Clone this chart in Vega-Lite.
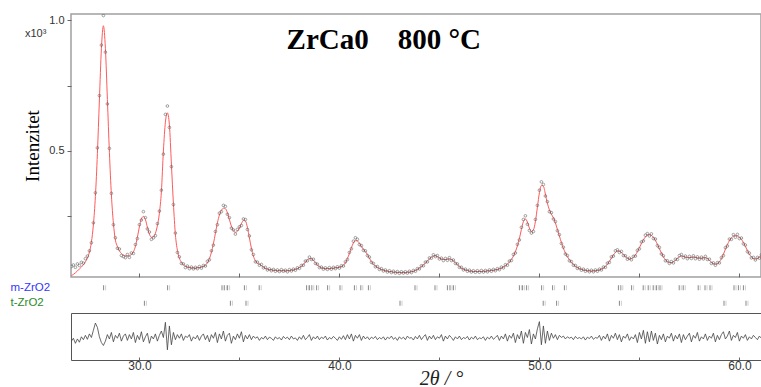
{
"$schema": "https://vega.github.io/schema/vega-lite/v6.json",
"background": "white",
"padding": {"left": 10, "top": 13, "right": 0, "bottom": 0},
"spacing": 1,
"config": {"axis": {"grid": false, "labelFont": "Liberation Sans", "labelColor": "#333", "tickColor": "#666"}},
"datasets": {
"pat": [
{"t":26.6,"o":0.058,"c":0.023,"d":-0.002},{"t":26.7,"o":0.064,"c":0.028,"d":0.006},{"t":26.8,"o":0.055,"c":0.034,"d":-0.008},{"t":26.9,"o":0.068,"c":0.041,"d":0.004},{"t":27.0,"o":0.062,"c":0.049,"d":-0.005},
{"t":27.1,"o":0.074,"c":0.056,"d":0.010},{"t":27.2,"o":0.071,"c":0.065,"d":0.002},{"t":27.3,"o":0.088,"c":0.076,"d":0.014},{"t":27.4,"o":0.098,"c":0.090,"d":0.003},{"t":27.5,"o":0.118,"c":0.113,"d":0.018},
{"t":27.6,"o":0.149,"c":0.151,"d":0.008},{"t":27.7,"o":0.225,"c":0.218,"d":0.028},{"t":27.8,"o":0.340,"c":0.326,"d":0.048},{"t":27.9,"o":0.512,"c":0.490,"d":0.036},{"t":28.0,"o":0.712,"c":0.695,"d":0.010},
{"t":28.1,"o":0.905,"c":0.891,"d":-0.006},{"t":28.2,"o":1.018,"c":0.979,"d":-0.014},{"t":28.3,"o":0.878,"c":0.893,"d":-0.002},{"t":28.4,"o":0.680,"c":0.697,"d":0.016},{"t":28.5,"o":0.510,"c":0.495,"d":0.004},
{"t":28.6,"o":0.338,"c":0.332,"d":0.022},{"t":28.7,"o":0.218,"c":0.224,"d":-0.004},{"t":28.8,"o":0.168,"c":0.159,"d":0.014},{"t":28.9,"o":0.128,"c":0.135,"d":0.006},{"t":29.0,"o":0.125,"c":0.118,"d":0.020},
{"t":29.1,"o":0.100,"c":0.108,"d":-0.002},{"t":29.2,"o":0.096,"c":0.102,"d":0.012},{"t":29.3,"o":0.092,"c":0.099,"d":0.018},{"t":29.4,"o":0.104,"c":0.098,"d":0.000},{"t":29.5,"o":0.093,"c":0.099,"d":0.016},
{"t":29.6,"o":0.110,"c":0.104,"d":0.004},{"t":29.7,"o":0.108,"c":0.114,"d":0.022},{"t":29.8,"o":0.142,"c":0.135,"d":-0.006},{"t":29.9,"o":0.165,"c":0.170,"d":0.014},{"t":30.0,"o":0.218,"c":0.210,"d":0.002},
{"t":30.1,"o":0.236,"c":0.240,"d":0.024},{"t":30.2,"o":0.268,"c":0.250,"d":-0.004},{"t":30.3,"o":0.245,"c":0.238,"d":0.010},{"t":30.4,"o":0.202,"c":0.208,"d":0.020},{"t":30.5,"o":0.190,"c":0.182,"d":-0.008},
{"t":30.6,"o":0.162,"c":0.170,"d":0.012},{"t":30.7,"o":0.168,"c":0.172,"d":0.004},{"t":30.8,"o":0.176,"c":0.185,"d":0.018},{"t":30.9,"o":0.222,"c":0.215,"d":-0.002},{"t":31.0,"o":0.270,"c":0.262,"d":0.014},
{"t":31.1,"o":0.350,"c":0.345,"d":0.026},{"t":31.2,"o":0.488,"c":0.500,"d":0.008},{"t":31.3,"o":0.640,"c":0.610,"d":0.050},{"t":31.4,"o":0.672,"c":0.646,"d":-0.026},{"t":31.5,"o":0.590,"c":0.600,"d":0.040},
{"t":31.6,"o":0.440,"c":0.450,"d":-0.012},{"t":31.7,"o":0.295,"c":0.300,"d":0.022},{"t":31.8,"o":0.186,"c":0.180,"d":0.002},{"t":31.9,"o":0.112,"c":0.120,"d":0.016},{"t":32.0,"o":0.095,"c":0.090,"d":0.006},
{"t":32.1,"o":0.070,"c":0.074,"d":0.018},{"t":32.2,"o":0.068,"c":0.065,"d":0.000},{"t":32.3,"o":0.054,"c":0.059,"d":0.012},{"t":32.4,"o":0.060,"c":0.056,"d":0.008},{"t":32.5,"o":0.050,"c":0.054,"d":0.016},
{"t":32.6,"o":0.056,"c":0.053,"d":-0.002},{"t":32.7,"o":0.049,"c":0.052,"d":0.010},{"t":32.8,"o":0.055,"c":0.052,"d":0.004},{"t":32.9,"o":0.050,"c":0.053,"d":0.014},{"t":33.0,"o":0.058,"c":0.054,"d":0.000},
{"t":33.1,"o":0.052,"c":0.056,"d":0.012},{"t":33.2,"o":0.062,"c":0.059,"d":0.018},{"t":33.3,"o":0.060,"c":0.063,"d":0.002},{"t":33.4,"o":0.078,"c":0.072,"d":0.014},{"t":33.5,"o":0.084,"c":0.088,"d":-0.004},
{"t":33.6,"o":0.118,"c":0.112,"d":0.016},{"t":33.7,"o":0.140,"c":0.145,"d":0.006},{"t":33.8,"o":0.192,"c":0.185,"d":0.022},{"t":33.9,"o":0.218,"c":0.225,"d":-0.006},{"t":34.0,"o":0.262,"c":0.255,"d":0.018},
{"t":34.1,"o":0.268,"c":0.273,"d":0.004},{"t":34.2,"o":0.292,"c":0.281,"d":0.026},{"t":34.3,"o":0.288,"c":0.279,"d":-0.002},{"t":34.4,"o":0.258,"c":0.264,"d":0.014},{"t":34.5,"o":0.245,"c":0.238,"d":0.020},
{"t":34.6,"o":0.205,"c":0.212,"d":-0.008},{"t":34.7,"o":0.198,"c":0.195,"d":0.012},{"t":34.8,"o":0.182,"c":0.189,"d":0.002},{"t":34.9,"o":0.200,"c":0.193,"d":0.018},{"t":35.0,"o":0.210,"c":0.205,"d":0.006},
{"t":35.1,"o":0.215,"c":0.222,"d":0.024},{"t":35.2,"o":0.240,"c":0.234,"d":-0.004},{"t":35.3,"o":0.238,"c":0.232,"d":0.014},{"t":35.4,"o":0.200,"c":0.208,"d":0.004},{"t":35.5,"o":0.175,"c":0.168,"d":0.016},
{"t":35.6,"o":0.122,"c":0.128,"d":0.002},{"t":35.7,"o":0.104,"c":0.098,"d":0.012},{"t":35.8,"o":0.076,"c":0.080,"d":0.006},{"t":35.9,"o":0.075,"c":0.071,"d":0.010},{"t":36.0,"o":0.063,"c":0.067,"d":0.000},
{"t":36.1,"o":0.066,"c":0.062,"d":0.008},{"t":36.2,"o":0.053,"c":0.056,"d":0.004},{"t":36.3,"o":0.055,"c":0.051,"d":0.012},{"t":36.4,"o":0.045,"c":0.048,"d":0.002},{"t":36.5,"o":0.049,"c":0.046,"d":0.009},
{"t":36.6,"o":0.042,"c":0.045,"d":0.006},{"t":36.7,"o":0.047,"c":0.044,"d":0.000},{"t":36.8,"o":0.040,"c":0.043,"d":0.010},{"t":36.9,"o":0.045,"c":0.042,"d":0.004},{"t":37.0,"o":0.039,"c":0.042,"d":0.008},
{"t":37.1,"o":0.046,"c":0.042,"d":0.001},{"t":37.2,"o":0.040,"c":0.042,"d":0.011},{"t":37.3,"o":0.044,"c":0.042,"d":0.005},{"t":37.4,"o":0.038,"c":0.042,"d":0.009},{"t":37.5,"o":0.046,"c":0.043,"d":0.002},
{"t":37.6,"o":0.041,"c":0.044,"d":0.012},{"t":37.7,"o":0.048,"c":0.045,"d":0.004},{"t":37.8,"o":0.044,"c":0.047,"d":0.007},{"t":37.9,"o":0.053,"c":0.050,"d":0.000},{"t":38.0,"o":0.051,"c":0.054,"d":0.010},
{"t":38.1,"o":0.062,"c":0.059,"d":0.003},{"t":38.2,"o":0.063,"c":0.066,"d":0.014},{"t":38.3,"o":0.079,"c":0.075,"d":0.002},{"t":38.4,"o":0.080,"c":0.083,"d":0.008},{"t":38.5,"o":0.094,"c":0.088,"d":0.016},
{"t":38.6,"o":0.085,"c":0.088,"d":0.000},{"t":38.7,"o":0.086,"c":0.082,"d":0.010},{"t":38.8,"o":0.070,"c":0.073,"d":0.004},{"t":38.9,"o":0.067,"c":0.064,"d":0.012},{"t":39.0,"o":0.054,"c":0.057,"d":0.002},
{"t":39.1,"o":0.056,"c":0.053,"d":0.009},{"t":39.2,"o":0.048,"c":0.051,"d":0.005},{"t":39.3,"o":0.053,"c":0.050,"d":0.012},{"t":39.4,"o":0.047,"c":0.050,"d":0.001},{"t":39.5,"o":0.054,"c":0.050,"d":0.008},
{"t":39.6,"o":0.048,"c":0.051,"d":0.004},{"t":39.7,"o":0.055,"c":0.052,"d":0.011},{"t":39.8,"o":0.050,"c":0.053,"d":0.006},{"t":39.9,"o":0.057,"c":0.054,"d":0.000},{"t":40.0,"o":0.052,"c":0.055,"d":0.010},
{"t":40.1,"o":0.061,"c":0.058,"d":0.003},{"t":40.2,"o":0.060,"c":0.063,"d":0.013},{"t":40.3,"o":0.076,"c":0.072,"d":0.002},{"t":40.4,"o":0.085,"c":0.088,"d":0.016},{"t":40.5,"o":0.112,"c":0.108,"d":0.004},
{"t":40.6,"o":0.126,"c":0.130,"d":0.018},{"t":40.7,"o":0.155,"c":0.148,"d":-0.002},{"t":40.8,"o":0.168,"c":0.157,"d":0.014},{"t":40.9,"o":0.162,"c":0.156,"d":0.006},{"t":41.0,"o":0.142,"c":0.147,"d":0.016},
{"t":41.1,"o":0.138,"c":0.135,"d":0.000},{"t":41.2,"o":0.120,"c":0.124,"d":0.012},{"t":41.3,"o":0.118,"c":0.115,"d":0.004},{"t":41.4,"o":0.100,"c":0.104,"d":0.010},{"t":41.5,"o":0.094,"c":0.090,"d":0.002},
{"t":41.6,"o":0.074,"c":0.077,"d":0.009},{"t":41.7,"o":0.070,"c":0.067,"d":0.005},{"t":41.8,"o":0.057,"c":0.060,"d":0.011},{"t":41.9,"o":0.058,"c":0.055,"d":0.002},{"t":42.0,"o":0.047,"c":0.050,"d":0.008},
{"t":42.1,"o":0.050,"c":0.047,"d":0.004},{"t":42.2,"o":0.041,"c":0.044,"d":0.010},{"t":42.3,"o":0.045,"c":0.042,"d":0.001},{"t":42.4,"o":0.037,"c":0.040,"d":0.009},{"t":42.5,"o":0.042,"c":0.039,"d":0.005},
{"t":42.6,"o":0.035,"c":0.038,"d":0.012},{"t":42.7,"o":0.040,"c":0.037,"d":0.003},{"t":42.8,"o":0.033,"c":0.036,"d":0.008},{"t":42.9,"o":0.039,"c":0.036,"d":0.000},{"t":43.0,"o":0.032,"c":0.035,"d":0.010},
{"t":43.1,"o":0.038,"c":0.035,"d":0.004},{"t":43.2,"o":0.033,"c":0.035,"d":0.009},{"t":43.3,"o":0.038,"c":0.035,"d":0.002},{"t":43.4,"o":0.033,"c":0.036,"d":0.012},{"t":43.5,"o":0.040,"c":0.037,"d":0.006},
{"t":43.6,"o":0.035,"c":0.038,"d":0.008},{"t":43.7,"o":0.043,"c":0.040,"d":0.001},{"t":43.8,"o":0.040,"c":0.043,"d":0.011},{"t":43.9,"o":0.050,"c":0.047,"d":0.004},{"t":44.0,"o":0.049,"c":0.052,"d":0.014},
{"t":44.1,"o":0.061,"c":0.058,"d":0.002},{"t":44.2,"o":0.061,"c":0.064,"d":0.010},{"t":44.3,"o":0.075,"c":0.071,"d":0.016},{"t":44.4,"o":0.076,"c":0.079,"d":0.000},{"t":44.5,"o":0.091,"c":0.087,"d":0.012},
{"t":44.6,"o":0.090,"c":0.094,"d":0.004},{"t":44.7,"o":0.103,"c":0.098,"d":0.014},{"t":44.8,"o":0.096,"c":0.099,"d":0.002},{"t":44.9,"o":0.100,"c":0.096,"d":0.010},{"t":45.0,"o":0.087,"c":0.091,"d":0.006},
{"t":45.1,"o":0.090,"c":0.087,"d":0.016},{"t":45.2,"o":0.081,"c":0.085,"d":-0.002},{"t":45.3,"o":0.089,"c":0.085,"d":0.012},{"t":45.4,"o":0.082,"c":0.086,"d":0.004},{"t":45.5,"o":0.092,"c":0.087,"d":0.014},
{"t":45.6,"o":0.081,"c":0.085,"d":0.008},{"t":45.7,"o":0.083,"c":0.080,"d":0.000},{"t":45.8,"o":0.070,"c":0.073,"d":0.010},{"t":45.9,"o":0.068,"c":0.065,"d":0.004},{"t":46.0,"o":0.055,"c":0.058,"d":0.012},
{"t":46.1,"o":0.055,"c":0.052,"d":0.002},{"t":46.2,"o":0.045,"c":0.048,"d":0.008},{"t":46.3,"o":0.048,"c":0.045,"d":0.005},{"t":46.4,"o":0.040,"c":0.043,"d":0.011},{"t":46.5,"o":0.044,"c":0.041,"d":0.001},
{"t":46.6,"o":0.037,"c":0.040,"d":0.009},{"t":46.7,"o":0.042,"c":0.039,"d":0.004},{"t":46.8,"o":0.036,"c":0.039,"d":0.012},{"t":46.9,"o":0.042,"c":0.039,"d":0.002},{"t":47.0,"o":0.036,"c":0.039,"d":0.007},
{"t":47.1,"o":0.043,"c":0.039,"d":0.005},{"t":47.2,"o":0.037,"c":0.040,"d":0.010},{"t":47.3,"o":0.043,"c":0.040,"d":0.000},{"t":47.4,"o":0.038,"c":0.041,"d":0.009},{"t":47.5,"o":0.045,"c":0.042,"d":0.004},
{"t":47.6,"o":0.040,"c":0.043,"d":0.012},{"t":47.7,"o":0.047,"c":0.044,"d":0.003},{"t":47.8,"o":0.042,"c":0.045,"d":0.008},{"t":47.9,"o":0.050,"c":0.047,"d":0.014},{"t":48.0,"o":0.046,"c":0.049,"d":0.000},
{"t":48.1,"o":0.056,"c":0.052,"d":0.012},{"t":48.2,"o":0.053,"c":0.056,"d":0.004},{"t":48.3,"o":0.065,"c":0.061,"d":0.018},{"t":48.4,"o":0.063,"c":0.067,"d":-0.002},{"t":48.5,"o":0.079,"c":0.075,"d":0.014},
{"t":48.6,"o":0.081,"c":0.085,"d":0.006},{"t":48.7,"o":0.104,"c":0.098,"d":0.020},{"t":48.8,"o":0.110,"c":0.115,"d":-0.006},{"t":48.9,"o":0.143,"c":0.137,"d":0.016},{"t":49.0,"o":0.160,"c":0.165,"d":0.004},
{"t":49.1,"o":0.208,"c":0.200,"d":0.026},{"t":49.2,"o":0.238,"c":0.230,"d":-0.008},{"t":49.3,"o":0.252,"c":0.240,"d":0.022},{"t":49.4,"o":0.220,"c":0.228,"d":0.008},{"t":49.5,"o":0.196,"c":0.205,"d":0.030},
{"t":49.6,"o":0.186,"c":0.192,"d":-0.010},{"t":49.7,"o":0.192,"c":0.198,"d":0.018},{"t":49.8,"o":0.238,"c":0.230,"d":0.004},{"t":49.9,"o":0.292,"c":0.285,"d":0.032},{"t":50.0,"o":0.350,"c":0.340,"d":0.052},
{"t":50.1,"o":0.382,"c":0.368,"d":-0.012},{"t":50.2,"o":0.372,"c":0.365,"d":0.040},{"t":50.3,"o":0.328,"c":0.335,"d":-0.008},{"t":50.4,"o":0.306,"c":0.300,"d":0.026},{"t":50.5,"o":0.268,"c":0.275,"d":0.000},
{"t":50.6,"o":0.264,"c":0.258,"d":0.020},{"t":50.7,"o":0.240,"c":0.245,"d":0.006},{"t":50.8,"o":0.230,"c":0.225,"d":0.016},{"t":50.9,"o":0.195,"c":0.200,"d":0.002},{"t":51.0,"o":0.180,"c":0.175,"d":0.014},
{"t":51.1,"o":0.146,"c":0.150,"d":0.008},{"t":51.2,"o":0.132,"c":0.128,"d":0.012},{"t":51.3,"o":0.106,"c":0.110,"d":0.004},{"t":51.4,"o":0.100,"c":0.096,"d":0.010},{"t":51.5,"o":0.080,"c":0.084,"d":0.006},
{"t":51.6,"o":0.077,"c":0.074,"d":0.009},{"t":51.7,"o":0.063,"c":0.066,"d":0.002},{"t":51.8,"o":0.062,"c":0.059,"d":0.011},{"t":51.9,"o":0.051,"c":0.054,"d":0.005},{"t":52.0,"o":0.053,"c":0.050,"d":0.008},
{"t":52.1,"o":0.044,"c":0.047,"d":0.004},{"t":52.2,"o":0.048,"c":0.045,"d":0.010},{"t":52.3,"o":0.040,"c":0.043,"d":0.001},{"t":52.4,"o":0.045,"c":0.042,"d":0.009},{"t":52.5,"o":0.038,"c":0.041,"d":0.005},
{"t":52.6,"o":0.044,"c":0.041,"d":0.012},{"t":52.7,"o":0.038,"c":0.041,"d":0.003},{"t":52.8,"o":0.045,"c":0.042,"d":0.008},{"t":52.9,"o":0.040,"c":0.043,"d":0.006},{"t":53.0,"o":0.048,"c":0.045,"d":0.014},
{"t":53.1,"o":0.045,"c":0.048,"d":0.000},{"t":53.2,"o":0.056,"c":0.052,"d":0.012},{"t":53.3,"o":0.055,"c":0.058,"d":0.004},{"t":53.4,"o":0.071,"c":0.067,"d":0.018},{"t":53.5,"o":0.074,"c":0.078,"d":-0.002},
{"t":53.6,"o":0.095,"c":0.090,"d":0.014},{"t":53.7,"o":0.098,"c":0.102,"d":0.006},{"t":53.8,"o":0.118,"c":0.112,"d":0.020},{"t":53.9,"o":0.122,"c":0.117,"d":0.002},{"t":54.0,"o":0.112,"c":0.117,"d":0.016},
{"t":54.1,"o":0.116,"c":0.112,"d":-0.004},{"t":54.2,"o":0.100,"c":0.104,"d":0.012},{"t":54.3,"o":0.099,"c":0.096,"d":0.006},{"t":54.4,"o":0.086,"c":0.090,"d":0.018},{"t":54.5,"o":0.090,"c":0.087,"d":0.000},
{"t":54.6,"o":0.084,"c":0.088,"d":0.010},{"t":54.7,"o":0.097,"c":0.093,"d":0.004},{"t":54.8,"o":0.098,"c":0.102,"d":0.016},{"t":54.9,"o":0.120,"c":0.115,"d":-0.006},{"t":55.0,"o":0.126,"c":0.130,"d":0.022},
{"t":55.1,"o":0.152,"c":0.146,"d":0.004},{"t":55.2,"o":0.156,"c":0.160,"d":0.028},{"t":55.3,"o":0.178,"c":0.171,"d":-0.008},{"t":55.4,"o":0.184,"c":0.178,"d":0.024},{"t":55.5,"o":0.175,"c":0.180,"d":-0.004},
{"t":55.6,"o":0.183,"c":0.177,"d":0.026},{"t":55.7,"o":0.165,"c":0.170,"d":0.000},{"t":55.8,"o":0.163,"c":0.158,"d":0.020},{"t":55.9,"o":0.138,"c":0.143,"d":-0.010},{"t":56.0,"o":0.131,"c":0.126,"d":0.014},
{"t":56.1,"o":0.106,"c":0.110,"d":0.002},{"t":56.2,"o":0.099,"c":0.095,"d":0.018},{"t":56.3,"o":0.080,"c":0.084,"d":-0.004},{"t":56.4,"o":0.080,"c":0.077,"d":0.012},{"t":56.5,"o":0.070,"c":0.073,"d":0.006},
{"t":56.6,"o":0.077,"c":0.073,"d":0.020},{"t":56.7,"o":0.072,"c":0.076,"d":-0.002},{"t":56.8,"o":0.086,"c":0.082,"d":0.014},{"t":56.9,"o":0.085,"c":0.089,"d":0.004},{"t":57.0,"o":0.100,"c":0.095,"d":0.018},
{"t":57.1,"o":0.104,"c":0.098,"d":-0.006},{"t":57.2,"o":0.092,"c":0.097,"d":0.016},{"t":57.3,"o":0.098,"c":0.094,"d":0.002},{"t":57.4,"o":0.088,"c":0.092,"d":0.012},{"t":57.5,"o":0.097,"c":0.092,"d":0.020},
{"t":57.6,"o":0.089,"c":0.093,"d":-0.004},{"t":57.7,"o":0.099,"c":0.094,"d":0.014},{"t":57.8,"o":0.088,"c":0.093,"d":0.006},{"t":57.9,"o":0.095,"c":0.091,"d":0.022},{"t":58.0,"o":0.086,"c":0.090,"d":-0.002},
{"t":58.1,"o":0.094,"c":0.090,"d":0.010},{"t":58.2,"o":0.087,"c":0.091,"d":0.004},{"t":58.3,"o":0.097,"c":0.092,"d":0.018},{"t":58.4,"o":0.085,"c":0.089,"d":0.000},{"t":58.5,"o":0.086,"c":0.082,"d":0.012},
{"t":58.6,"o":0.070,"c":0.074,"d":0.006},{"t":58.7,"o":0.072,"c":0.069,"d":0.020},{"t":58.8,"o":0.063,"c":0.067,"d":-0.004},{"t":58.9,"o":0.073,"c":0.069,"d":0.014},{"t":59.0,"o":0.072,"c":0.076,"d":0.002},
{"t":59.1,"o":0.092,"c":0.088,"d":0.016},{"t":59.2,"o":0.100,"c":0.105,"d":0.024},{"t":59.3,"o":0.130,"c":0.124,"d":0.004},{"t":59.4,"o":0.137,"c":0.142,"d":0.012},{"t":59.5,"o":0.163,"c":0.157,"d":0.026},
{"t":59.6,"o":0.162,"c":0.168,"d":0.000},{"t":59.7,"o":0.180,"c":0.174,"d":0.014},{"t":59.8,"o":0.170,"c":0.176,"d":0.008},{"t":59.9,"o":0.181,"c":0.175,"d":0.022},{"t":60.0,"o":0.165,"c":0.170,"d":-0.002},
{"t":60.1,"o":0.167,"c":0.162,"d":0.012},{"t":60.2,"o":0.145,"c":0.150,"d":0.006},{"t":60.3,"o":0.140,"c":0.135,"d":0.016},{"t":60.4,"o":0.115,"c":0.119,"d":0.000},{"t":60.5,"o":0.109,"c":0.105,"d":0.010},
{"t":60.6,"o":0.091,"c":0.095,"d":0.004},{"t":60.7,"o":0.093,"c":0.089,"d":0.014},{"t":60.8,"o":0.083,"c":0.087,"d":0.008},{"t":60.9,"o":0.093,"c":0.089,"d":0.002},{"t":61.0,"o":0.090,"c":0.094,"d":0.012},
{"t":61.1,"o":0.103,"c":0.099,"d":0.006}
],
"ticks": [
{"p":"m-ZrO2","t":28.21},{"p":"m-ZrO2","t":31.41},{"p":"m-ZrO2","t":34.13},{"p":"m-ZrO2","t":34.25},{"p":"m-ZrO2","t":34.41},{"p":"m-ZrO2","t":35.25},{"p":"m-ZrO2","t":35.99},
{"p":"m-ZrO2","t":38.36},{"p":"m-ZrO2","t":38.5},{"p":"m-ZrO2","t":38.62},{"p":"m-ZrO2","t":38.86},{"p":"m-ZrO2","t":39.41},{"p":"m-ZrO2","t":40.03},{"p":"m-ZrO2","t":40.75},
{"p":"m-ZrO2","t":41.07},{"p":"m-ZrO2","t":41.45},{"p":"m-ZrO2","t":43.78},{"p":"m-ZrO2","t":44.78},{"p":"m-ZrO2","t":45.4},{"p":"m-ZrO2","t":45.53},{"p":"m-ZrO2","t":45.7},
{"p":"m-ZrO2","t":49.0},{"p":"m-ZrO2","t":49.16},{"p":"m-ZrO2","t":49.36},{"p":"m-ZrO2","t":50.11},{"p":"m-ZrO2","t":50.66},{"p":"m-ZrO2","t":51.25},{"p":"m-ZrO2","t":53.95},
{"p":"m-ZrO2","t":54.07},{"p":"m-ZrO2","t":54.61},{"p":"m-ZrO2","t":55.19},{"p":"m-ZrO2","t":55.44},{"p":"m-ZrO2","t":55.69},{"p":"m-ZrO2","t":55.86},{"p":"m-ZrO2","t":56.03},
{"p":"m-ZrO2","t":56.99},{"p":"m-ZrO2","t":57.19},{"p":"m-ZrO2","t":57.94},{"p":"m-ZrO2","t":58.28},{"p":"m-ZrO2","t":58.53},{"p":"m-ZrO2","t":59.73},{"p":"m-ZrO2","t":59.95},{"p":"m-ZrO2","t":60.2},
{"p":"t-ZrO2","t":30.25},{"p":"t-ZrO2","t":34.55},{"p":"t-ZrO2","t":35.33},{"p":"t-ZrO2","t":43.03},{"p":"t-ZrO2","t":50.19},{"p":"t-ZrO2","t":50.86},{"p":"t-ZrO2","t":54.0},{"p":"t-ZrO2","t":59.23},{"p":"t-ZrO2","t":60.33}
]
},
"vconcat": [
{
"width": 690, "height": 263,
"view": {"stroke": "#a0a0a0", "strokeWidth": 1.5},
"data": {"name": "pat"},
"layer": [
{"mark": {"type": "line", "color": "#ff5a5a", "strokeWidth": 1, "interpolate": "monotone", "clip": true},
 "encoding": {
  "x": {"field": "t", "type": "quantitative", "scale": {"domain": [26.58, 61.08], "nice": false, "zero": false},
        "axis": {"values": [30, 35, 40, 45, 50, 55, 60], "labels": false, "tickSize": -4, "domain": false, "title": null}},
  "y": {"field": "c", "type": "quantitative", "scale": {"domain": [0.018, 1.024], "nice": false, "zero": false},
        "axis": {"values": [0.25, 0.5, 0.75, 1.0], "labelExpr": "datum.value == 0.5 || datum.value == 1 ? format(datum.value, '.1f') : ''", "tickSize": 4, "labelPadding": 3, "labelFontSize": 11, "domain": false,
                 "title": "Intenzitet", "titleFont": "Liberation Serif", "titleFontSize": 19, "titleFontWeight": "normal", "titleColor": "#000", "titlePadding": 6}}
 }},
{"mark": {"type": "point", "shape": "circle", "size": 7, "filled": false, "stroke": "#555", "strokeWidth": 0.8, "clip": true},
 "encoding": {
  "x": {"field": "t", "type": "quantitative"},
  "y": {"field": "o", "type": "quantitative"}
 }},
{"data": {"values": [{}]},
 "mark": {"type": "text", "font": "Liberation Sans", "fontSize": 11, "color": "#333", "align": "left", "baseline": "alphabetic"},
 "encoding": {
  "x": {"datum": 24.28, "type": "quantitative"},
  "y": {"datum": 0.936, "type": "quantitative"},
  "text": {"value": "x10³"}
 }},
{"data": {"values": [{}]},
 "mark": {"type": "text", "font": "Liberation Serif", "fontSize": 29, "fontWeight": "bold", "color": "#000", "align": "left", "baseline": "alphabetic"},
 "encoding": {
  "x": {"datum": 37.36, "type": "quantitative"},
  "y": {"datum": 0.889, "type": "quantitative"},
  "text": {"value": "ZrCa0\u00a0\u00a0\u00a0\u00a0800 °C"}
 }}
]
},
{
"width": 690, "height": 31,
"view": {"stroke": null},
"data": {"name": "ticks"},
"encoding": {
 "x": {"field": "t", "type": "quantitative", "scale": {"domain": [26.58, 61.08], "nice": false, "zero": false}, "axis": null},
 "y": {"field": "p", "type": "nominal", "scale": {"type": "band", "domain": ["m-ZrO2", "t-ZrO2"], "paddingInner": 0, "paddingOuter": 0},
       "axis": {"title": null, "ticks": false, "domain": false, "labelAlign": "left", "labelPadding": 61, "labelFontSize": 11.5,
                "labelColor": {"condition": {"test": "datum.value === 'm-ZrO2'", "value": "#3535ff"}, "value": "#2a8a2a"}}}
},
"layer": [
 {"mark": {"type": "tick", "color": "#555", "thickness": 1, "size": 5}},
 {"mark": {"type": "tick", "color": "#bbb", "thickness": 1, "size": 5, "xOffset": 2}}
]
},
{
"width": 690, "height": 47,
"view": {"stroke": "#555", "strokeWidth": 1},
"data": {"name": "pat"},
"mark": {"type": "line", "color": "#444", "strokeWidth": 0.8, "clip": true},
"encoding": {
 "x": {"field": "t", "type": "quantitative", "scale": {"domain": [26.58, 61.08], "nice": false, "zero": false},
       "axis": {"values": [30, 35, 40, 45, 50, 55, 60], "labelExpr": "datum.value % 10 == 0 ? format(datum.value, '.1f') : ''", "tickSize": -3, "labelPadding": 3, "labelFontSize": 12, "domain": false,
                "title": "2θ / °", "titleFont": "Liberation Serif", "titleFontStyle": "italic", "titleFontWeight": "normal", "titleFontSize": 20, "titleColor": "#222", "titleX": 370, "titlePadding": -3}},
 "y": {"field": "d", "type": "quantitative", "scale": {"domain": [-0.0542, 0.0758], "nice": false, "zero": false}, "axis": null}
}
}
]
}
